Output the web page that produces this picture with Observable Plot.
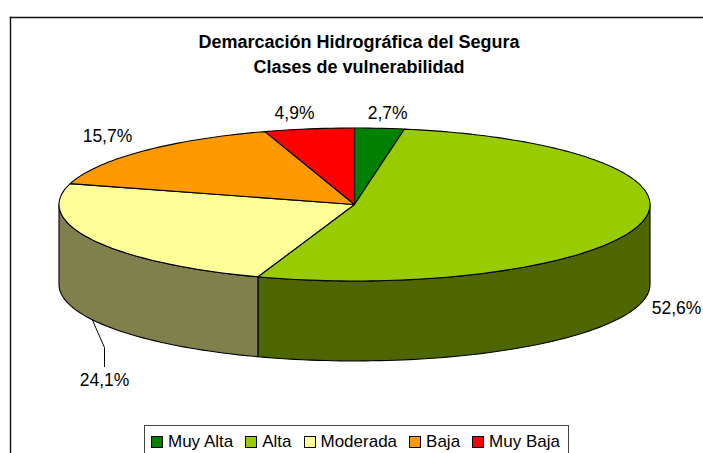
<!DOCTYPE html>
<html><head><meta charset="utf-8">
<script src="https://cdn.jsdelivr.net/npm/d3@7"></script>
<script src="https://cdn.jsdelivr.net/npm/@observablehq/plot@0.6"></script>
<style>
html,body{margin:0;padding:0;background:#fff;}
#chart{position:relative;width:703px;height:453px;overflow:hidden;font-family:"Liberation Sans",Arial,sans-serif;}
#chart svg{display:block;position:absolute;left:0;top:0;}
#legend{position:absolute;left:144px;top:425px;width:425px;height:40px;box-sizing:border-box;border:1px solid #444;background:#fff;display:flex;align-items:flex-start;padding:6px 0 0 6px;font-size:17px;line-height:20px;color:#000;}
#legend span.k{width:10px;height:10px;border:1px solid #000;margin:4px 5px 0 0;flex:none;}
#legend span.t{margin-right:12px;white-space:nowrap;}
</style></head><body><div id="chart"></div>
<script>
const categories = ["Muy Alta","Alta","Moderada","Baja","Muy Baja"];
const values = [2.7,52.6,24.1,15.7,4.9];
const labels = ["2,7%","52,6%","24,1%","15,7%","4,9%"];
const colors = ["#008000","#99CC00","#FFFF99","#FF9900","#FF0000"];
const sideColors = ["#004000","#4D6600","#80804D","#804D00","#800000"];
const titleLines = ["Demarcación Hidrográfica del Segura","Clases de vulnerabilidad"];
const depth = 1.045;

const total = d3.sum(values);
const ends = d3.cumsum(values).map(v => v/total*360);
const rad = a => a*Math.PI/180;
const steps = (a,b) => { const n=Math.max(2,Math.ceil((b-a)/1.5)); return d3.range(n+1).map(i=>a+(b-a)*i/n); };
const tops=[], sides=[];
categories.forEach((c,i)=>{
  const a = i?ends[i-1]:0, b = ends[i];
  tops.push({c,x:0,y:0,i});
  steps(a,b).forEach(t=>tops.push({c,x:Math.sin(rad(t)),y:Math.cos(rad(t)),i}));
  tops.push({c,x:0,y:0,i});
  const s=Math.max(a,90), e=Math.min(b,270);
  if(s<e){
    const arc=steps(s,e);
    arc.forEach(t=>sides.push({c,x:Math.sin(rad(t)),y:Math.cos(rad(t)),i}));
    arc.slice().reverse().forEach(t=>sides.push({c,x:Math.sin(rad(t)),y:Math.cos(rad(t))-depth,i}));
    sides.push({c,x:Math.sin(rad(s)),y:Math.cos(rad(s)),i});
  }
});
const lab = [
 {t:labels[0],x:0.112,y:1.19},
 {t:labels[1],x:1.09,y:-1.36},
 {t:labels[2],x:-0.846,y:-2.30},
 {t:labels[3],x:-0.836,y:0.89},
 {t:labels[4],x:-0.203,y:1.19}
];
const leader=[{x:-0.887,y:-1.51},{x:-0.846,y:-1.87},{x:-0.846,y:-2.12}];
const plot = Plot.plot({
  width:703,height:453,margin:0,
  style:{background:"transparent",fontFamily:"'Liberation Sans',Arial,sans-serif",overflow:"visible"},
  x:{domain:[-1,1],range:[58.5,649.5],axis:null},
  y:{domain:[-1,1],range:[280.5,127.5],axis:null},
  marks:[
    Plot.frame({anchor:"top",stroke:"#111",strokeWidth:1.4,insetTop:17,insetLeft:10}),
    Plot.frame({anchor:"left",stroke:"#111",strokeWidth:1.4,insetLeft:10,insetTop:17}),
    Plot.line(sides,{x:"x",y:"y",z:"c",fill:d=>sideColors[d.i],stroke:"#000",strokeWidth:1.1,curve:"linear"}),
    Plot.line(tops,{x:"x",y:"y",z:"c",fill:d=>colors[d.i],stroke:"#000",strokeWidth:1.1,curve:"linear",strokeLinejoin:"round"}),
    Plot.line(leader,{x:"x",y:"y",stroke:"#000",strokeWidth:1}),
    Plot.text(lab,{x:"x",y:"y",text:"t",fontSize:17.5,fill:"#000"}),
    Plot.text([titleLines[0]],{frameAnchor:"top",dx:7,dy:42,text:d=>d,fontSize:18,fontWeight:"bold",fill:"#000",lineAnchor:"middle"}),
    Plot.text([titleLines[1]],{frameAnchor:"top",dx:7,dy:67,text:d=>d,fontSize:18,fontWeight:"bold",fill:"#000",lineAnchor:"middle"})
  ]
});
const root=document.getElementById("chart");
root.appendChild(plot);
const lg=document.createElement("div");lg.id="legend";
categories.forEach((c,i)=>{
  const k=document.createElement("span");k.className="k";k.style.background=colors[i];
  const t=document.createElement("span");t.className="t";t.textContent=c;
  lg.append(k,t);
});
root.appendChild(lg);
</script></body></html>
